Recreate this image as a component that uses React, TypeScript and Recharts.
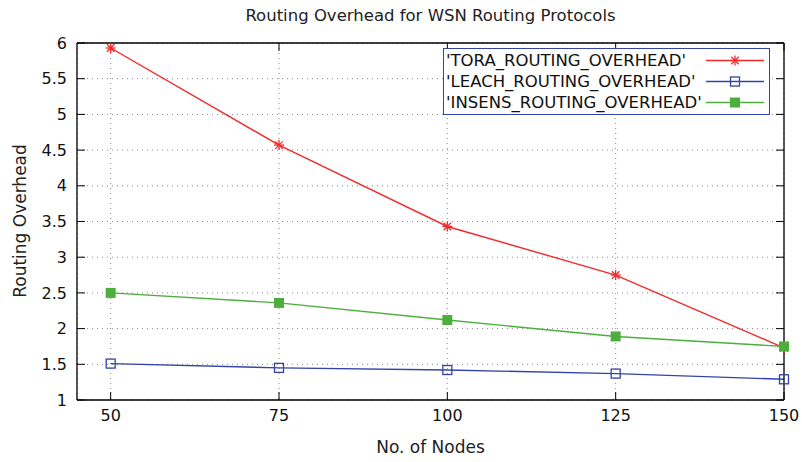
import { LineChart, Line, XAxis, YAxis, CartesianGrid, Legend } from 'recharts';

// values
const nodeCounts = [50, 75, 100, 125, 150];
const toraOverhead = [5.93, 4.57, 3.43, 2.75, 1.73];
const leachOverhead = [1.51, 1.45, 1.42, 1.37, 1.29];
const insensOverhead = [2.5, 2.36, 2.12, 1.89, 1.75];

const xTicks = [50, 75, 100, 125, 150];
const yTicks = [1, 1.5, 2, 2.5, 3, 3.5, 4, 4.5, 5, 5.5, 6];

const RED = '#f42a2a';
const BLUE = '#3444a6';
const GREEN = '#4cae3c';
const FONT = '"DejaVu Sans", sans-serif';

const data = nodeCounts.map((n, i) => ({
    nodes: n,
    tora: toraOverhead[i],
    leach: leachOverhead[i],
    insens: insensOverhead[i],
}));

const series = [
    { key: 'tora', name: "'TORA_ROUTING_OVERHEAD'", color: RED, marker: 'star' },
    { key: 'leach', name: "'LEACH_ROUTING_OVERHEAD'", color: BLUE, marker: 'openSquare' },
    { key: 'insens', name: "'INSENS_ROUTING_OVERHEAD'", color: GREEN, marker: 'fullSquare' },
];

function Marker({ cx, cy, type, color }: { cx: number; cy: number; type: string; color: string }) {
    if (type === 'star') {
        const r = 5;
        return (
            <g stroke={color} strokeWidth={1.3}>
                <line x1={cx - r} y1={cy} x2={cx + r} y2={cy} />
                <line x1={cx} y1={cy - r} x2={cx} y2={cy + r} />
                <line x1={cx - r * 0.75} y1={cy - r * 0.75} x2={cx + r * 0.75} y2={cy + r * 0.75} />
                <line x1={cx - r * 0.75} y1={cy + r * 0.75} x2={cx + r * 0.75} y2={cy - r * 0.75} />
            </g>
        );
    }
    if (type === 'openSquare') {
        return <rect x={cx - 4.5} y={cy - 4.5} width={9} height={9} fill="none" stroke={color} strokeWidth={1.3} />;
    }
    return <rect x={cx - 5} y={cy - 5} width={10} height={10} fill={color} />;
}

const makeDot = (type: string, color: string) => (props: any) => {
    if (props.cx == null || props.cy == null) return <g key={props.key} />;
    return <Marker key={props.key} cx={props.cx} cy={props.cy} type={type} color={color} />;
};

function LegendBox() {
    return (
        <div
            style={{
                border: `1px solid ${BLUE}`,
                background: '#fff',
                width: 325,
                padding: '1px 0',
                fontFamily: FONT,
                fontSize: 16.5,
                color: '#111',
            }}
        >
            {series.map((s) => (
                <div key={s.key} style={{ display: 'flex', alignItems: 'center', height: 21 }}>
                    <span style={{ width: 258, paddingLeft: 2, whiteSpace: 'nowrap' }}>{s.name}</span>
                    <svg width={62} height={21}>
                        <line x1={2} y1={10.5} x2={60} y2={10.5} stroke={s.color} strokeWidth={1.5} />
                        <Marker cx={31} cy={10.5} type={s.marker} color={s.color} />
                    </svg>
                </div>
            ))}
        </div>
    );
}

export default function App() {
    const tickStyle = { fill: '#111', fontSize: 16, fontFamily: FONT };

    return (
        <div style={{ position: 'absolute', left: 0, top: 0, width: 802, height: 462, background: '#fff' }}>
            <div
                style={{
                    position: 'absolute',
                    left: 77,
                    width: 707,
                    top: 6,
                    textAlign: 'center',
                    fontFamily: FONT,
                    fontSize: 16.5,
                    color: '#222',
                }}
            >
                Routing Overhead for WSN Routing Protocols
            </div>
            <div
                style={{
                    position: 'absolute',
                    left: 20,
                    top: 221,
                    transform: 'translate(-50%, -50%) rotate(-90deg)',
                    whiteSpace: 'nowrap',
                    fontFamily: FONT,
                    fontSize: 17,
                    color: '#222',
                }}
            >
                Routing Overhead
            </div>
            <div
                style={{
                    position: 'absolute',
                    left: 77,
                    width: 707,
                    top: 437,
                    textAlign: 'center',
                    fontFamily: FONT,
                    fontSize: 17,
                    color: '#222',
                }}
            >
                No. of Nodes
            </div>

            <LineChart width={802} height={462} data={data} margin={{ top: 42, right: 0, bottom: 0, left: 0 }}>
                <CartesianGrid stroke="#888" strokeDasharray="1 4" />
                <XAxis
                    dataKey="nodes"
                    type="number"
                    domain={[45, 150]}
                    ticks={xTicks}
                    interval={0}
                    height={62}
                    axisLine={{ stroke: '#000', strokeWidth: 1.3 }}
                    tickLine={{ stroke: '#000' }}
                    tickSize={-8}
                    tickMargin={18}
                    tick={tickStyle}
                />
                <XAxis
                    xAxisId="top"
                    orientation="top"
                    dataKey="nodes"
                    type="number"
                    domain={[45, 150]}
                    ticks={xTicks}
                    interval={0}
                    height={1}
                    axisLine={{ stroke: '#000', strokeWidth: 1.3 }}
                    tickLine={{ stroke: '#000' }}
                    tickSize={-8}
                    tickFormatter={() => ''}
                />
                <YAxis
                    type="number"
                    domain={[1, 6]}
                    ticks={yTicks}
                    interval={0}
                    width={77}
                    axisLine={{ stroke: '#000', strokeWidth: 1.3 }}
                    tickLine={{ stroke: '#000' }}
                    tickSize={-8}
                    tickMargin={18}
                    tick={tickStyle}
                />
                <YAxis
                    yAxisId="right"
                    orientation="right"
                    type="number"
                    domain={[1, 6]}
                    allowDataOverflow
                    ticks={yTicks}
                    interval={0}
                    width={18}
                    axisLine={{ stroke: '#000', strokeWidth: 1.3 }}
                    tickLine={{ stroke: '#000' }}
                    tickSize={-8}
                    tickFormatter={() => ''}
                />
                <Legend
                    layout="vertical"
                    align="center"
                    verticalAlign="middle"
                    content={() => <LegendBox />}
                    wrapperStyle={{ left: 443, top: 48, width: 327 }}
                />
                {series.map((s) => (
                    <Line
                        key={s.key}
                        dataKey={s.key}
                        name={s.name}
                        type="linear"
                        stroke={s.color}
                        strokeWidth={1.4}
                        dot={makeDot(s.marker, s.color)}
                        activeDot={false}
                        isAnimationActive={false}
                    />
                ))}
            </LineChart>
        </div>
    );
}
